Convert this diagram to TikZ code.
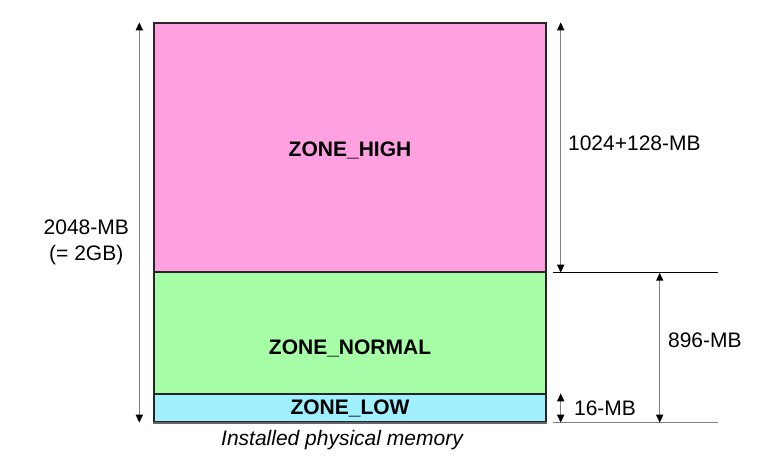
\documentclass[tikz,border=0pt]{standalone}
\usepackage{fontspec}
\setmainfont{Liberation Sans}
\usetikzlibrary{positioning,arrows.meta}

\definecolor{highpink}{RGB}{255,160,225}
\definecolor{normalgreen}{RGB}{166,255,166}
\definecolor{lowcyan}{RGB}{160,240,255}

\begin{document}
\begin{tikzpicture}[x=0.5pt, y=-0.5pt, font=\fontsize{10.5}{13}\selectfont]

    \tikzstyle{zone}=[draw=black!85, line width=0.7pt, minimum width=196pt, inner sep=0pt]
    \tikzstyle{zonename}=[font=\bfseries\fontsize{10.5}{13}\selectfont]
    \tikzstyle{span}=[draw=gray, line width=0.75pt, {Triangle[color=black, length=4pt, width=3.5pt]}-{Triangle[color=black, length=4pt, width=3.5pt]}]
    \tikzstyle{mark line}=[line width=0.75pt]

    \useasboundingbox (0,0) rectangle (758,464);

    % memory zones, top to bottom
    \node[zone, fill=highpink, minimum height=124.5pt] (HIGH) at (350,147.5) {};
    \node[zone, fill=normalgreen, minimum height=61pt] (NORMAL) at (350,333) {};
    \node[zone, fill=lowcyan, minimum height=14pt] (LOW) at (350,408) {};
    \draw[gray!80!black, line width=1pt] (LOW.south west) -- (LOW.south east);

    \node[zonename] (HIGHNAME) at ([yshift=-1.5pt]HIGH.center) {ZONE\_HIGH};
    \node[zonename] (NORMALNAME) at ([yshift=-7.5pt]NORMAL.center) {ZONE\_NORMAL};
    \node[zonename] (LOWNAME) at (LOW.center) {ZONE\_LOW};
    \node (CAPTION) at (342,440) {\itshape Installed physical memory};

    % marker lines on the right
    \coordinate (MARKHIGH) at ([xshift=3pt]HIGH.south east);
    \coordinate (MARKLOW) at ([xshift=3pt]LOW.south east);
    \draw[mark line, black] (MARKHIGH) -- ++(165,0) coordinate (MARKHIGHEND);
    \draw[mark line, gray] (MARKLOW) -- ++(165,0) coordinate (MARKLOWEND);

    % total size
    \draw[span] ([xshift=-7pt]HIGH.north west) -- node[left=1.5pt, pos=0.55, align=center] (TOTAL) {2048-MB\\(= 2GB)} ([xshift=-7pt]LOW.south west);

    % high memory size
    \draw[span] ([xshift=7pt]HIGH.north east) -- node[right=0pt, pos=0.485] (HIGHSIZE) {1024+128-MB} ([xshift=7pt]HIGH.south east);

    % direct mapped size
    \draw[span] ([xshift=-29pt]MARKHIGHEND) -- node[right=0.5pt, pos=0.45] (LOWMEM) {896-MB} ([xshift=-29pt]MARKLOWEND);

    % dma size
    \draw[span] ([xshift=7pt]LOW.north east) -- node[right=3pt] (DMASIZE) {16-MB} ([xshift=7pt]LOW.south east);

\end{tikzpicture}
\end{document}
